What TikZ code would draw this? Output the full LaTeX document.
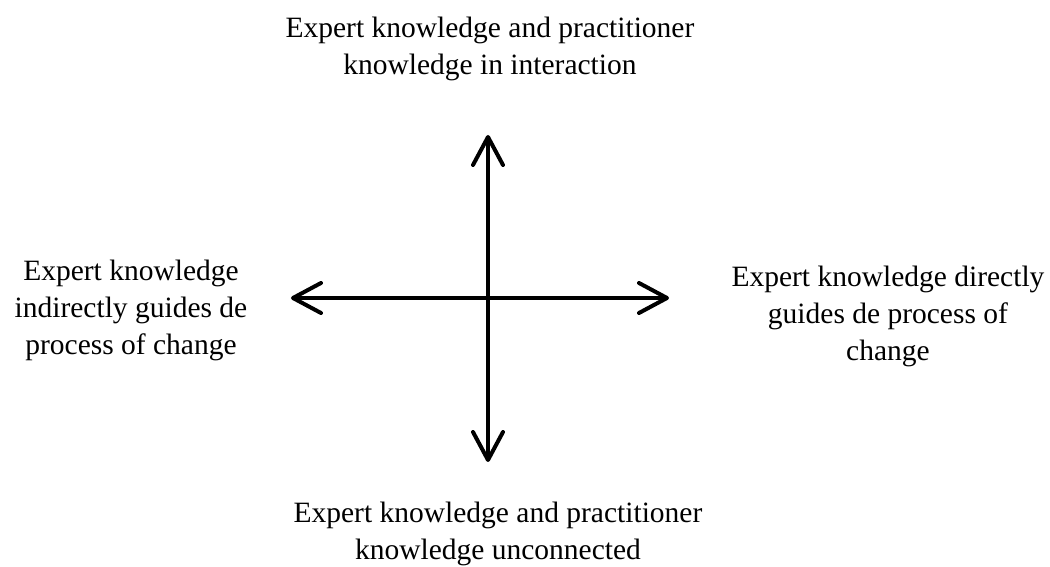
\documentclass[tikz,border=0pt]{standalone}
\usepackage{fontspec}
\setmainfont{Liberation Serif}
\usetikzlibrary{arrows.meta}

\begin{document}
\begin{tikzpicture}[x=1pt,y=1pt,
  >={Straight Barb[length=28pt,width=30pt,line cap=round,line join=round]},
  axis/.style={line width=4pt,line cap=round},
  label/.style={align=center,inner sep=0pt,
    font=\fontsize{29.5}{37}\selectfont}]
\useasboundingbox (-488,-269) rectangle (562,298);
\coordinate (c) at (0,0);
\coordinate (n) at (0,163);
\coordinate (s) at (0,-164);
\coordinate (w) at (-197,0);
\coordinate (e) at (181,0);
\node[label] (top) at (2,249) {Expert knowledge and practitioner\\knowledge in interaction};
\node[label] (left) at (-357,-12) {Expert knowledge\\indirectly guides de\\process of change};
\node[label] (right) at (400,-18) {Expert knowledge directly\\guides de process of\\change};
\node[label] (bottom) at (10,-236) {Expert knowledge and practitioner\\knowledge unconnected};
\draw[axis,<->] (s) -- (n);
\draw[axis,<->] (w) -- (e);
\end{tikzpicture}
\end{document}
